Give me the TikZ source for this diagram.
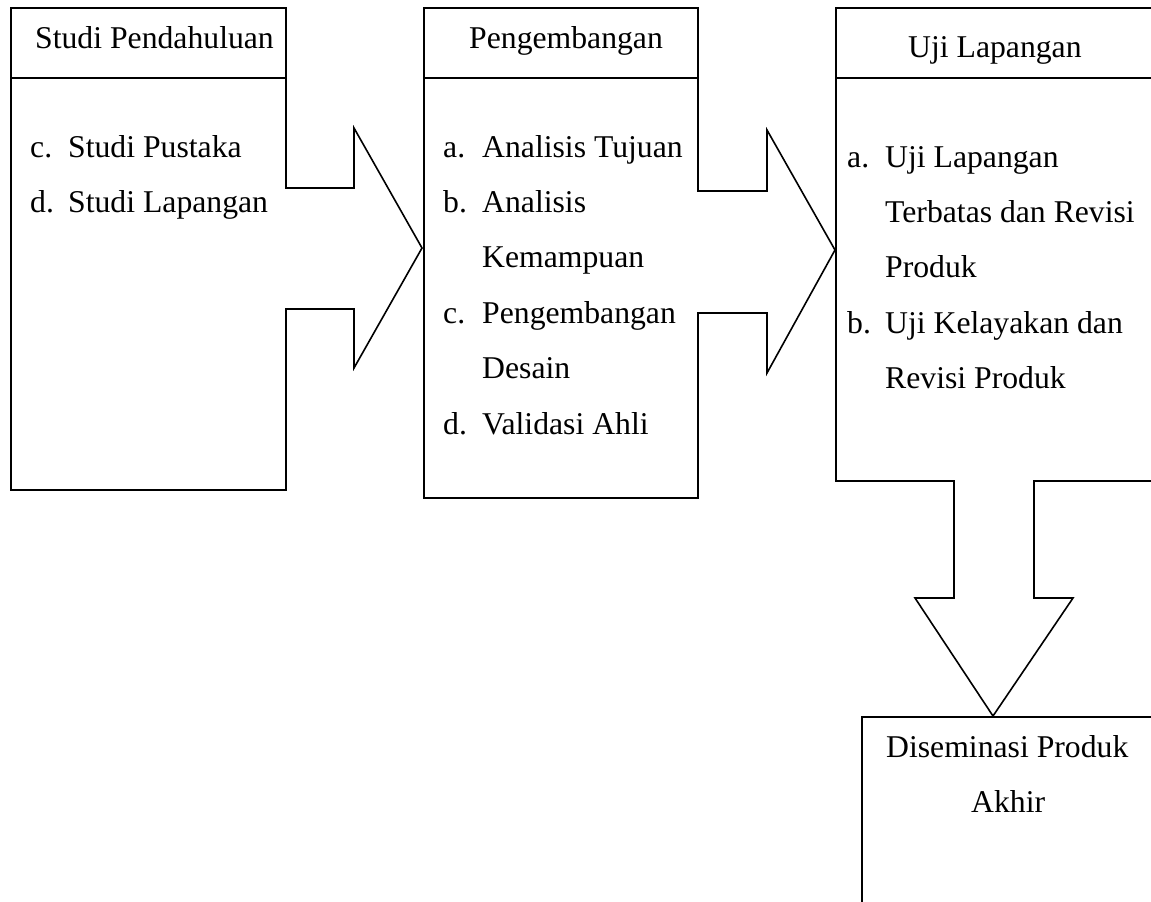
\documentclass[tikz,border=0pt]{standalone}
\usepackage{fontspec}
\setmainfont{Liberation Serif}
\tikzset{
  stage/.style={draw, line width=1.6pt, rectangle, anchor=north west, inner sep=0pt},
  lbl/.style={anchor=base west, inner sep=0pt, font=\fontsize{31.7}{38}\selectfont},
  blockarrow/.style={draw, line width=1.6pt, line join=miter},
}
\begin{document}
\begin{tikzpicture}[x=1pt,y=-1pt]
    \useasboundingbox (0,0) rectangle (1151,902);
    % stages
    \node[stage, minimum width=275pt, minimum height=482pt] (pend) at (10,7) {};
    \node[stage, minimum width=274pt, minimum height=490pt] (pengem) at (423,7) {};
    \node[stage, minimum width=322pt, minimum height=473pt] (uji) at (835,7) {};
    \node[stage, minimum width=296pt, minimum height=200pt] (disem) at (861,716) {};
    \draw[line width=1.6pt] ([yshift=-71pt]pend.north west) -- ([yshift=-71pt]pend.north east);
    \draw[line width=1.6pt] ([yshift=-71pt]pengem.north west) -- ([yshift=-71pt]pengem.north east);
    \draw[line width=1.6pt] ([yshift=-71pt]uji.north west) -- ([yshift=-71pt]uji.north east);
    % block arrows
    \fill[white] (283,189) rectangle (353,308);
    \draw[blockarrow] (285,188) -- (354,188) -- (354,128) -- (422,248) -- (354,368) -- (354,309) -- (285,309);
    \fill[white] (695,192) rectangle (766,312);
    \draw[blockarrow] (697,191) -- (767,191) -- (767,130) -- (835,250) -- (767,373) -- (767,313) -- (697,313);
    \fill[white] (955,478) rectangle (1033,597);
    \draw[blockarrow] (954,480) -- (954,598) -- (915,598) -- (993,716) -- (1073,598) -- (1034,598) -- (1034,480);
    % titles
    \node[lbl] (pendT) at (35,48) {Studi Pendahuluan};
    \node[lbl] (pengemT) at (469,48) {Pengembangan};
    \node[lbl] (ujiT) at (908,57) {Uji Lapangan};
    \node[lbl] (disemT) at (886,757) {Diseminasi Produk};
    \node[lbl] (disemT2) at (971,812) {Akhir};
    % items
    \foreach \m/\t [count=\i from 0] in {c./Studi Pustaka, d./Studi Lapangan} {
        \node[lbl] (pendM\i) at (30,157+55.4*\i) {\m};
        \node[lbl] (pendI\i) at (68,157+55.4*\i) {\t};
    }
    \foreach \m/\t [count=\i from 0] in {a./Analisis Tujuan, b./Analisis, {}/Kemampuan, c./Pengembangan, {}/Desain, d./Validasi Ahli} {
        \node[lbl] (pengemM\i) at (443,157+55.4*\i) {\m};
        \node[lbl] (pengemI\i) at (482,157+55.4*\i) {\t};
    }
    \foreach \m/\t [count=\i from 0] in {a./Uji Lapangan, {}/Terbatas dan Revisi, {}/Produk, b./Uji Kelayakan dan, {}/Revisi Produk} {
        \node[lbl] (ujiM\i) at (847,167+55.4*\i) {\m};
        \node[lbl] (ujiI\i) at (885,167+55.4*\i) {\t};
    }
\end{tikzpicture}
\end{document}
